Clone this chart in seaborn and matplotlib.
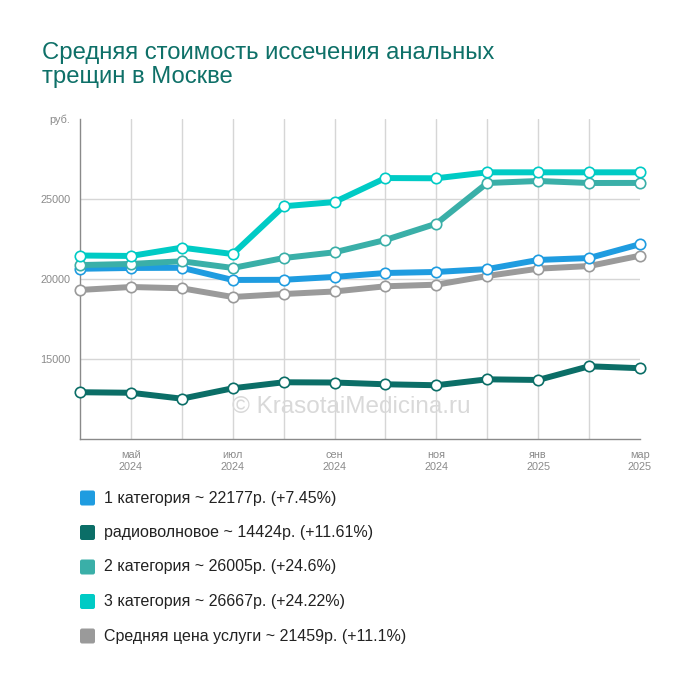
import numpy as np
import pandas as pd
import matplotlib
matplotlib.use('Agg')
import matplotlib.pyplot as plt
import seaborn as sns

# monthly prices, Apr 2024 .. Mar 2025
months = ['апр', 'май', 'июн', 'июл', 'авг', 'сен', 'окт', 'ноя', 'дек', 'янв', 'фев', 'мар']
cat1 = [20639, 20690, 20700, 19940, 19950, 20130, 20375, 20440, 20620, 21190, 21310, 22177]
radio = [12923, 12890, 12520, 13170, 13545, 13530, 13420, 13360, 13730, 13690, 14545, 14424]
cat2 = [20871, 20940, 21110, 20690, 21310, 21670, 22440, 23460, 26000, 26125, 26000, 26005]
cat3 = [21468, 21440, 21960, 21560, 24545, 24810, 26310, 26295, 26667, 26667, 26667, 26667]
avg = [19315, 19500, 19420, 18875, 19060, 19220, 19545, 19645, 20190, 20645, 20810, 21459]

names = ['1 категория ~ 22177р. (+7.45%)',
         'радиоволновое ~ 14424р. (+11.61%)',
         '2 категория ~ 26005р. (+24.6%)',
         '3 категория ~ 26667р. (+24.22%)',
         'Средняя цена услуги ~ 21459р. (+11.1%)']
colors = ['#1f9ce0', '#0b6e67', '#3aafa8', '#00cbc5', '#9a9a9a']
xtick_pos = [1, 3, 5, 7, 9, 11]
xtick_labels = ['май\n2024', 'июл\n2024', 'сен\n2024', 'ноя\n2024', 'янв\n2025', 'мар\n2025']
ytick_vals = [15000, 20000, 25000]

series = [cat1, radio, cat2, cat3, avg]
df = pd.concat([pd.DataFrame({'month': range(len(months)), 'price': s, 'name': n})
                for s, n in zip(series, names)])

sns.set_style('white')
plt.rcParams['font.family'] = ['Liberation Sans', 'DejaVu Sans']

fig = plt.figure(figsize=(7, 6.84), dpi=100)
ax = fig.add_axes([80 / 700, 245 / 684, 560 / 700, 320 / 684])

# draw order: radio, avg, cat1, cat2, cat3 (top)
order = [1, 4, 0, 2, 3]
for i in order:
    sub = df[df['name'] == names[i]]
    sns.lineplot(data=sub, x='month', y='price', ax=ax, color=colors[i], lw=4.3,
                 marker='o', markersize=7.5, markerfacecolor='white',
                 markeredgecolor=colors[i], markeredgewidth=1.2, clip_on=False,
                 zorder=3 + order.index(i), legend=False)

ax.set_xlim(0, len(months) - 1)
ax.set_ylim(10000, 30000)
ax.set_xlabel('')
ax.set_ylabel('')

# grid
for m in range(1, len(months) - 1):
    ax.axvline(m, color='#d6d6d6', lw=1, zorder=1)
for v in ytick_vals:
    ax.axhline(v, color='#d6d6d6', lw=1, zorder=1)

ax.set_xticks(xtick_pos)
ax.set_xticklabels(xtick_labels, fontsize=7.8, color='#8a8a8a', linespacing=1.25)
ax.set_yticks(ytick_vals + [30000])
ax.set_yticklabels([str(v) for v in ytick_vals] + ['руб.'], fontsize=7.8, color='#8a8a8a')
ax.tick_params(axis='both', length=5, width=1, color='#8a8a8a', pad=2, direction='out')
ax.tick_params(axis='x', length=5, pad=3)
for sp in ['top', 'right']:
    ax.spines[sp].set_visible(False)
for sp in ['left', 'bottom']:
    ax.spines[sp].set_color('#8a8a8a')
    ax.spines[sp].set_linewidth(1)

# watermark
ax.text(0.485, 0.1, '© KrasotaiMedicina.ru', transform=ax.transAxes, ha='center', va='center',
        fontsize=17.5, color='#d9d9d9', zorder=2)

# title
fig.text(42 / 700, 1 - 42 / 684, 'Средняя стоимость иссечения анальных\nтрещин в Москве',
         ha='left', va='top', fontsize=17.2, color='#0e7068', linespacing=1.12)

# legend
for k, (n, c) in enumerate(zip(names, colors)):
    y = 1 - (498 + k * 34.5) / 684
    fig.patches.append(matplotlib.patches.FancyBboxPatch(
        (80 / 700, y - 7.5 / 684), 15 / 700, 15 / 684,
        boxstyle='round,pad=0,rounding_size=0.003', transform=fig.transFigure,
        facecolor=c, edgecolor='none'))
    fig.text(104 / 700, y, n, ha='left', va='center', fontsize=11.5, color='#222222')

fig.savefig('out.png', dpi=100)
